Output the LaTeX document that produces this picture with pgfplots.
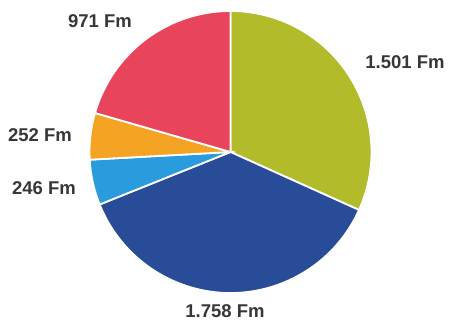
\documentclass[border=0pt]{standalone}
\usepackage{pgfplots}
\pgfplotsset{compat=1.18}
\usepackage{fontspec}
\setmainfont{Liberation Sans}
\definecolor{cgreen}{RGB}{178,188,42}
\definecolor{cblue}{RGB}{40,76,151}
\definecolor{clblue}{RGB}{42,155,221}
\definecolor{corange}{RGB}{244,163,35}
\definecolor{cred}{RGB}{232,68,92}
\definecolor{ctext}{RGB}{55,55,55}
\begin{document}
\begin{tikzpicture}
% values (Fm), clockwise from the top
\def\vA{1501}\def\vB{1758}\def\vC{246}\def\vD{252}\def\vE{971}
\pgfmathsetmacro\tot{\vA+\vB+\vC+\vD+\vE}
\pgfmathsetmacro\aA{90}
\pgfmathsetmacro\aB{\aA-\vA/\tot*360}
\pgfmathsetmacro\aC{\aB-\vB/\tot*360}
\pgfmathsetmacro\aD{\aC-\vC/\tot*360}
\pgfmathsetmacro\aE{\aD-\vD/\tot*360}
\pgfmathsetmacro\aF{\aE-\vE/\tot*360}
\begin{axis}[
  width=464bp, height=322bp, scale only axis,
  xmin=0, xmax=464, ymin=0, ymax=322,
  hide axis, clip=false,
]
\path[draw=none] (rel axis cs:0,0) rectangle (rel axis cs:1,1);
\def\cx{230.5}\def\cy{170}\def\r{141bp}
\filldraw[fill=cgreen, draw=white, line width=1.8bp] (axis cs:\cx,\cy) -- ++(\aA:\r) arc[start angle=\aA, end angle=\aB, radius=\r] -- cycle;
\filldraw[fill=cblue, draw=white, line width=1.8bp] (axis cs:\cx,\cy) -- ++(\aB:\r) arc[start angle=\aB, end angle=\aC, radius=\r] -- cycle;
\filldraw[fill=clblue, draw=white, line width=1.8bp] (axis cs:\cx,\cy) -- ++(\aC:\r) arc[start angle=\aC, end angle=\aD, radius=\r] -- cycle;
\filldraw[fill=corange, draw=white, line width=1.8bp] (axis cs:\cx,\cy) -- ++(\aD:\r) arc[start angle=\aD, end angle=\aE, radius=\r] -- cycle;
\filldraw[fill=cred, draw=white, line width=1.8bp] (axis cs:\cx,\cy) -- ++(\aE:\r) arc[start angle=\aE, end angle=\aF, radius=\r] -- cycle;
\tikzset{lab/.style={font=\fontsize{18.5bp}{21bp}\selectfont\bfseries, text=ctext, inner sep=0pt}}
\node[lab] at (axis cs:405,260) {1.501 Fm};
\node[lab] at (axis cs:225,10.5) {1.758 Fm};
\node[lab] at (axis cs:44,134) {246 Fm};
\node[lab] at (axis cs:40,187) {252 Fm};
\node[lab] at (axis cs:100,301) {971 Fm};
\end{axis}
\end{tikzpicture}
\end{document}
